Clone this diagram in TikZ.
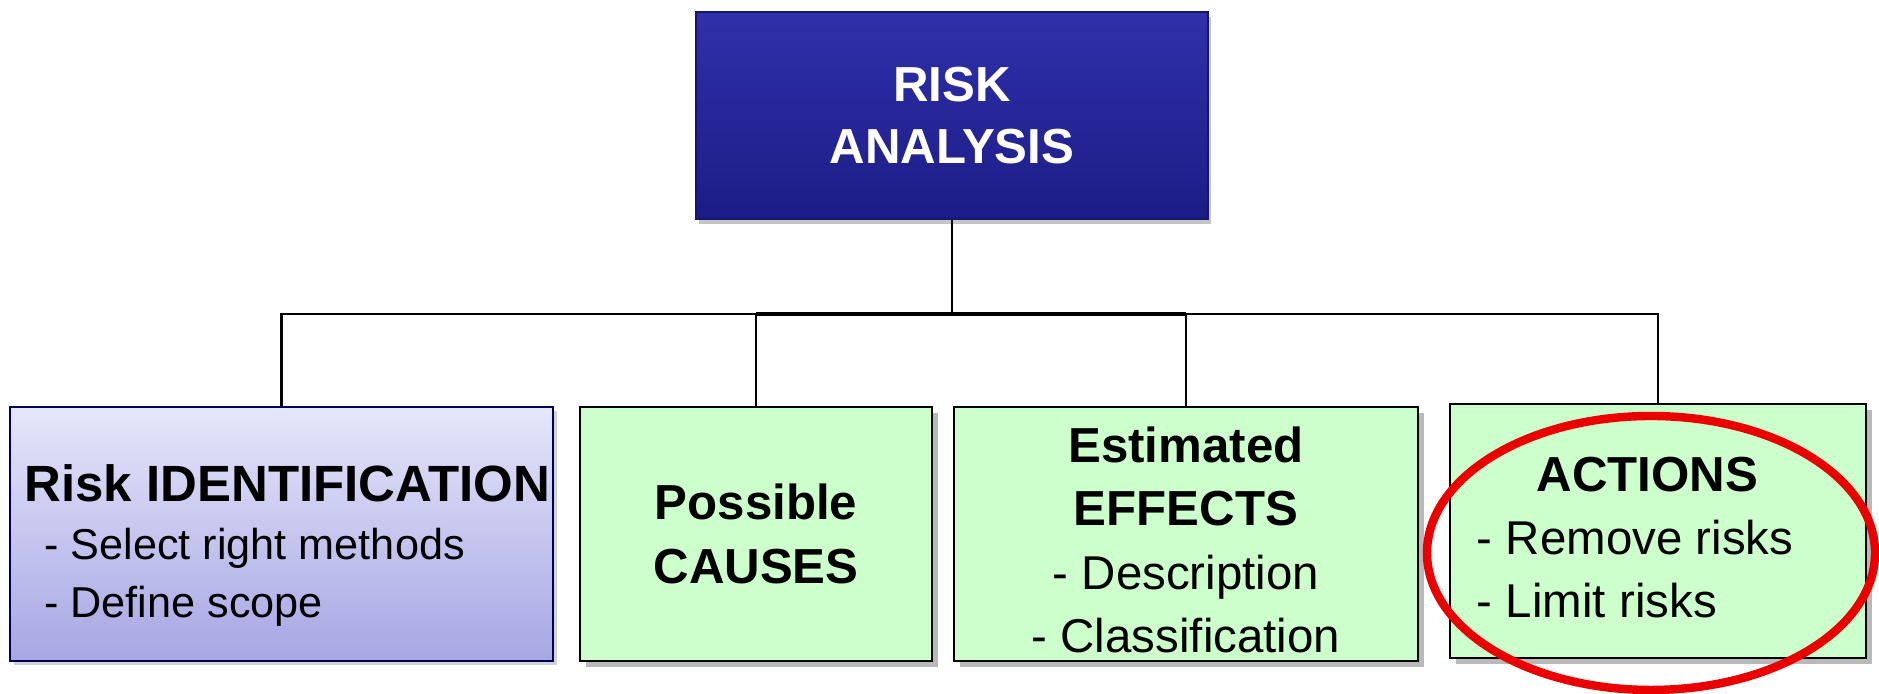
\documentclass[tikz,border=0pt]{standalone}
\usepackage{fontspec}
\setmainfont{Liberation Sans}
\usetikzlibrary{positioning, shadows, shapes.geometric}

\definecolor{boxgreen}{RGB}{204,255,204}
\definecolor{topblue}{RGB}{48,48,170}
\definecolor{botblue}{RGB}{28,28,135}
\definecolor{lavtop}{RGB}{230,230,250}
\definecolor{lavbot}{RGB}{166,166,228}
\definecolor{ringred}{RGB}{235,0,0}

\newcommand{\headln}[1]{{\fontsize{14}{18}\selectfont\bfseries #1}}
\newcommand{\itemln}[1]{{\fontsize{13.5}{18}\selectfont #1}}

\begin{document}
\begin{tikzpicture}[
 headbox/.style={rectangle, inner sep=0pt, minimum width=5.12cm, minimum height=2.07cm,
  top color=topblue, bottom color=botblue, draw=botblue!80!black, line width=0.6pt,
  drop shadow={shadow xshift=0.03cm, shadow yshift=-0.05cm, fill=black!45},
  text=white, align=center, font=\fontsize{14}{17.5}\selectfont\bfseries},
 idbox/.style={rectangle, inner sep=0pt, minimum height=2.54cm,
  top color=lavtop, bottom color=lavbot, draw=black!65!blue, line width=0.8pt,
  drop shadow={shadow xshift=0.04cm, shadow yshift=-0.04cm, fill=black!35},
  align=left, font=\fontsize{12.3}{16.5}\selectfont},
 greenbox/.style={rectangle, inner sep=0pt, minimum height=2.54cm,
  fill=boxgreen, draw=black, line width=0.8pt,
  drop shadow={shadow xshift=0.06cm, shadow yshift=-0.06cm, fill=black!55},
  align=center, font=\fontsize{14}{18}\selectfont},
 link/.style={draw=black, line width=0.6pt}
]
\useasboundingbox (0,0) rectangle (18.79,6.94);

% the analysis box on top
\node[headbox] (risk) at (9.52,5.785) {RISK\\ANALYSIS};

% the four boxes below it
\node[idbox, minimum width=5.43cm] (ident) at (2.815,1.60)
 {{\fontsize{14.5}{16.5}\selectfont\bfseries\rule{0pt}{17pt}\hspace*{3.4pt}Risk IDENTIFICATION}\\
  {\hspace*{9pt}- Select right methods}\\
  {\hspace*{9pt}- Define scope}};
\node[greenbox, minimum width=3.52cm] (causes) at (7.56,1.60)
 {\headln{Possible}\\\headln{CAUSES}};
\node[greenbox, minimum width=4.64cm] (effects) at (11.86,1.60)
 {\headln{\rule{0pt}{13.5pt}Estimated}\\\headln{EFFECTS}\\\itemln{- Description}\\\itemln{- Classification}};
\node[greenbox, minimum width=4.16cm, align=left] (actions) at (16.58,1.63)
 {\headln{\rule{0pt}{13.5pt}\hspace*{17pt}ACTIONS}\\\itemln{- Remove risks\hspace*{13pt}\mbox{}}\\\itemln{- Limit risks}};

% the tree of lines
\coordinate (bar) at (risk.south |- 0,3.80);
\draw[link] (risk.south) -- (bar);
\draw[link] (bar) -| (ident.north);
\draw[link] (bar) -| (causes.north);
\draw[link] (bar) -| (effects.north);
\draw[link] (bar) -| (actions.north);
\draw[line width=1.2pt] (causes.north |- bar) -- (effects.north |- bar);

% the red ring round the actions
\node[draw=ringred, line width=2.4pt, ellipse, inner sep=0pt,
 minimum width=4.48cm, minimum height=2.74cm] (ring) at (16.51,1.41) {};
\end{tikzpicture}
\end{document}
